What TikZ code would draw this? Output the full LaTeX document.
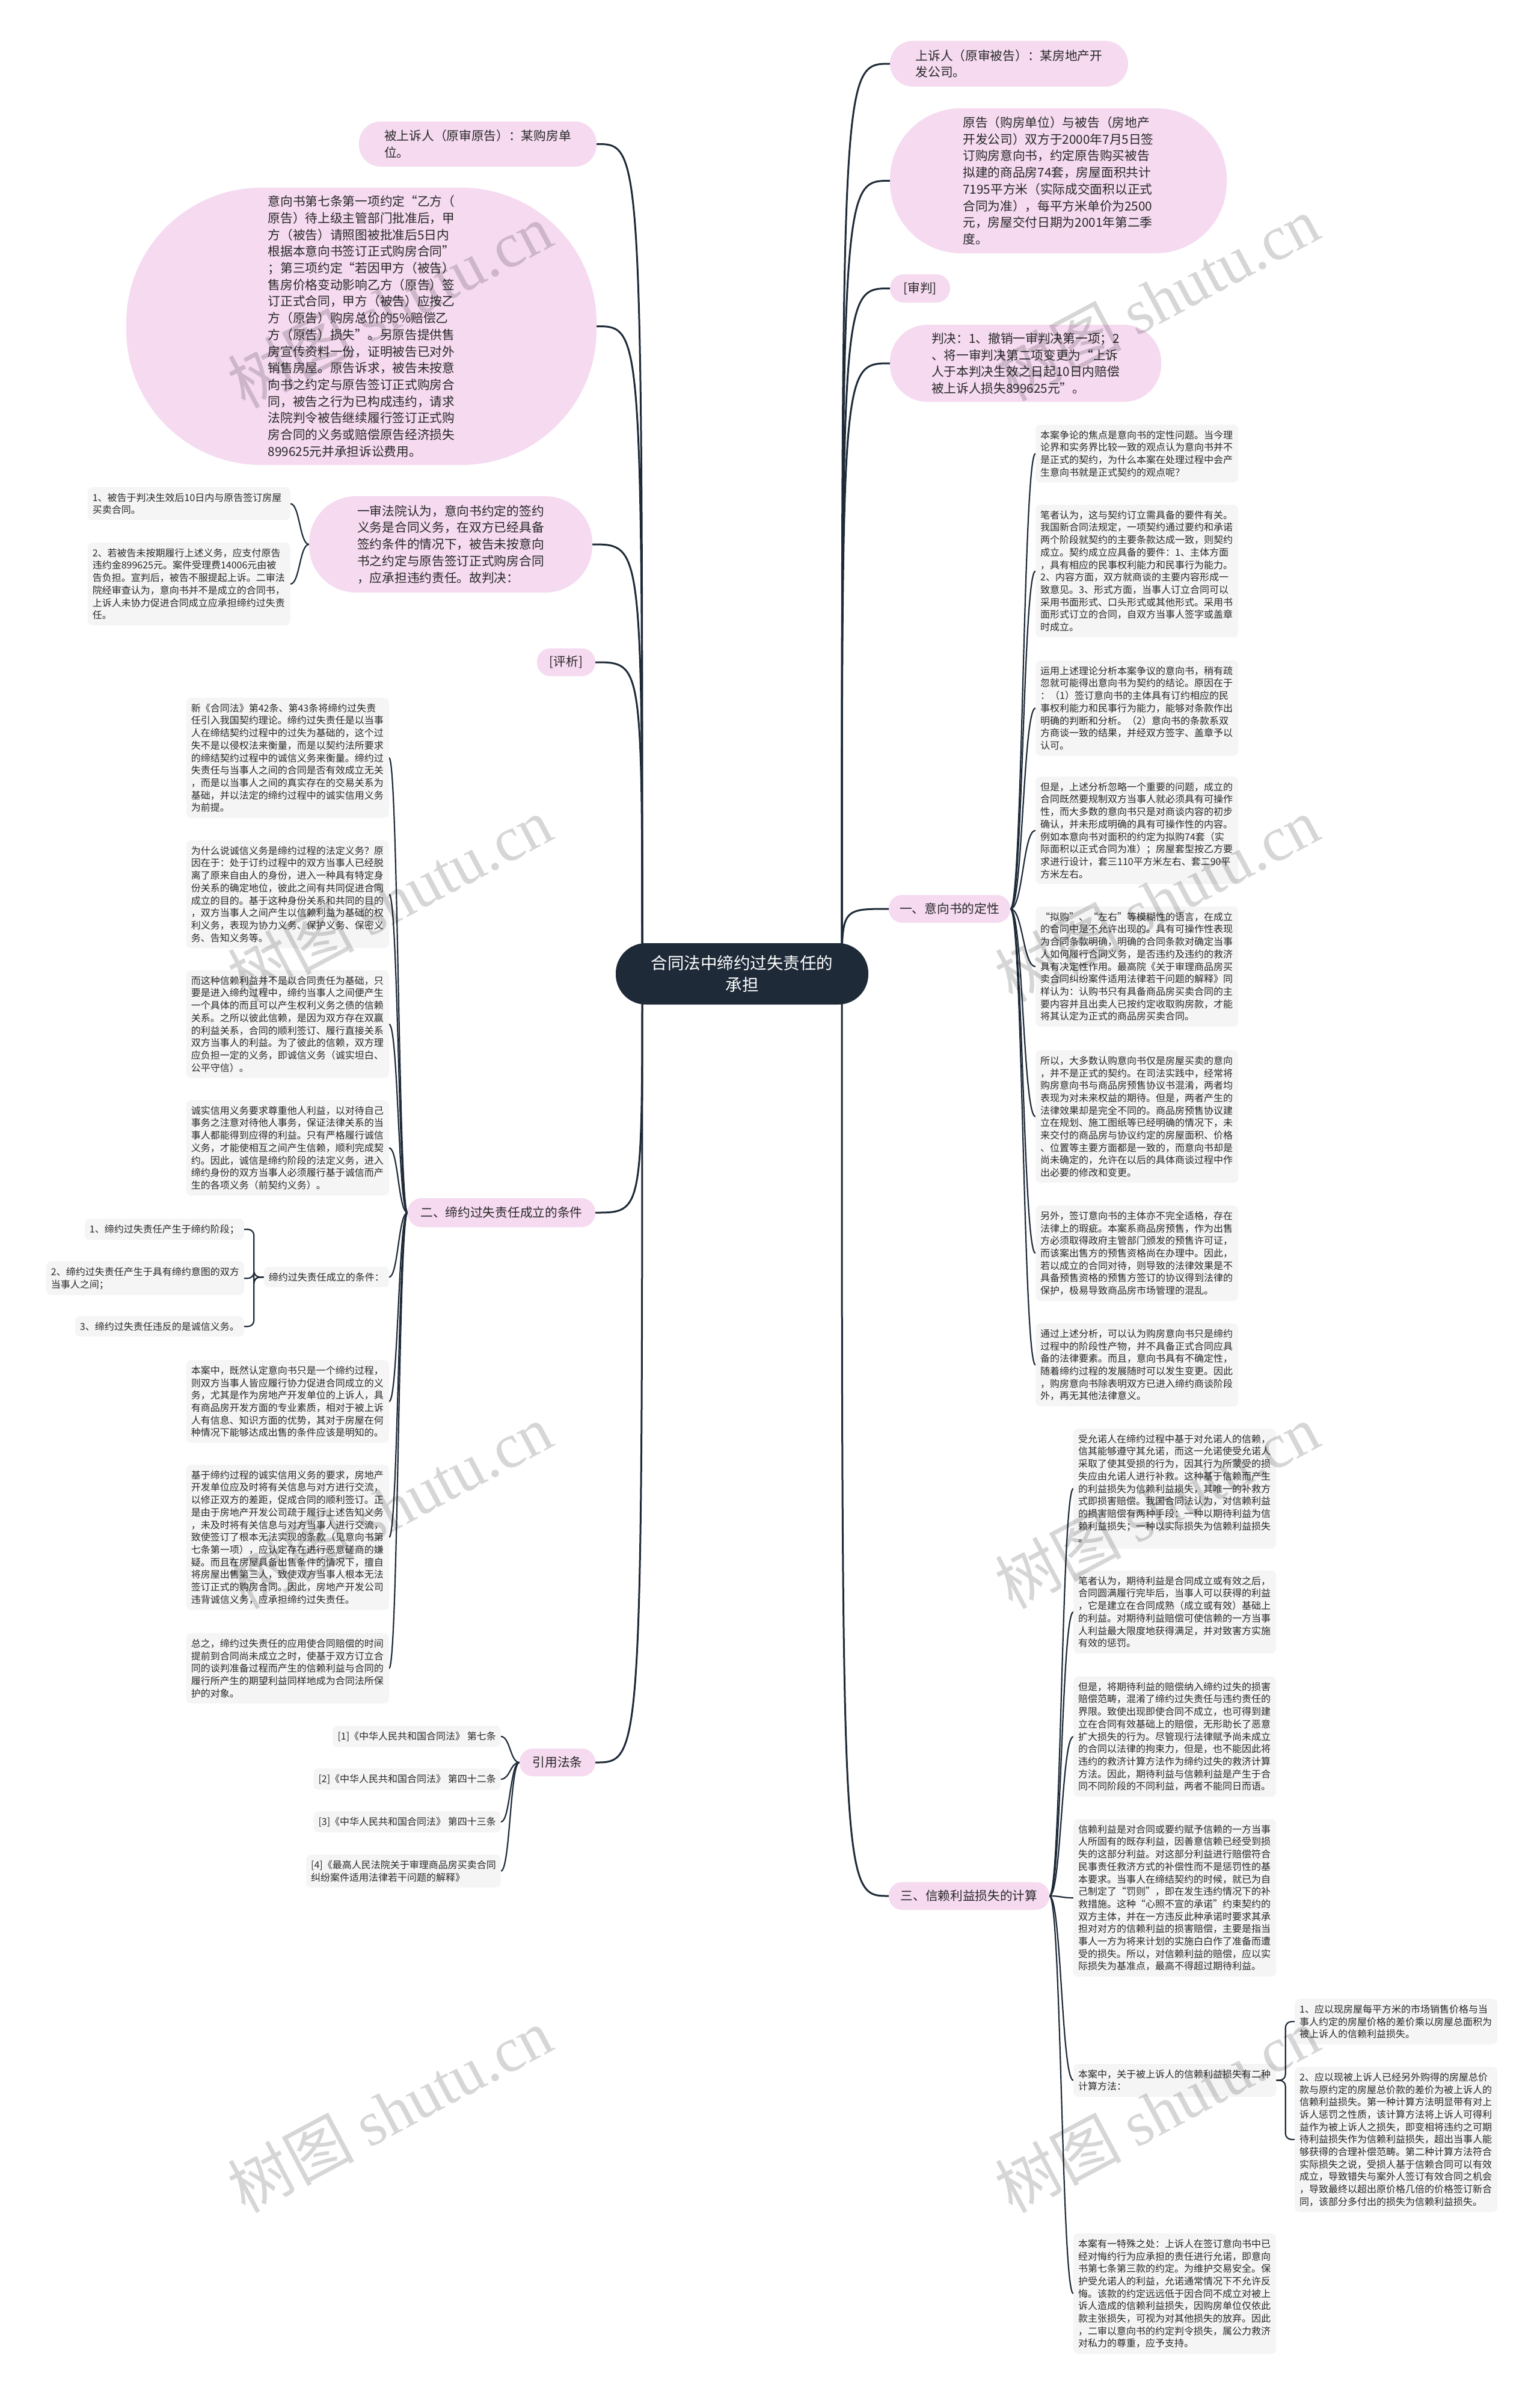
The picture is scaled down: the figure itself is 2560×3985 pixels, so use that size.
\documentclass[tikz,border=0pt]{standalone}
\usepackage{fontspec}
\setmainfont{Noto Sans CJK SC}
\newfontfamily\wmserif{Liberation Serif}
\usetikzlibrary{calc,backgrounds}
\definecolor{pinkc}{RGB}{245,218,240}
\definecolor{greyc}{RGB}{245,245,245}
\definecolor{navy}{RGB}{30,42,56}
\definecolor{txt}{RGB}{40,40,40}
\tikzset{
 pk/.style={fill=pinkc, rounded corners=#1, text=txt, align=left, font=\fontsize{20.7}{27.7}\selectfont, inner sep=0pt},
 gb/.style={fill=greyc, rounded corners=8pt, text=txt, align=left, text width=321pt, font=\fontsize{16}{20.7}\selectfont, inner xsep=8pt, inner ysep=9.5pt},
 gs/.style={fill=greyc, rounded corners=8pt, text=txt, align=left, font=\fontsize{16}{20.7}\selectfont, inner xsep=8pt, inner ysep=9.5pt},
 mline/.style={draw=navy, line width=3pt},
 sline/.style={draw=navy, line width=2.2pt},
 wmark/.style={rotate=28, text=black, opacity=0.16, font=\fontsize{105}{105}\selectfont}
}
\newcommand\mybrace[2]{\draw[sline] let \p1=(#1), \p2=(#2) in (\p1) .. controls ({(\x1+\x2)/2},\y1) and ({(\x1+\x2)/2},\y2) .. (\p2);}
\newcommand\myelbow[2]{\draw[sline, rounded corners=10pt] let \p1=(#1), \p2=(#2) in (\p1) -- ({(\x1+\x2)/2},\y1) -- ({(\x1+\x2)/2},\y2) -- (\p2);}
\begin{document}
\begin{tikzpicture}[x=1pt,y=-1pt]
\useasboundingbox (0,0) rectangle (2560,3985);

% central
\node[fill=navy, rounded corners=50pt, text=white, align=center, font=\fontsize{27.5}{36}\selectfont, minimum width=420pt, minimum height=102pt, inner sep=0pt] (c) at (1234,1619) {合同法中缔约过失责任的\\承担};
\coordinate (cR) at (1400,1619);
\coordinate (cL) at (1068,1619);

% right level 1
\node[pk=38pt, minimum width=396pt, minimum height=76pt] (p1) at (1678,106) {上诉人（原审被告）：某房地产开\\发公司。};
\node[pk=118pt, minimum width=560pt, minimum height=241pt] (p2) at (1760,300.5) {原告（购房单位）与被告（房地产\\开发公司）双方于2000年7月5日签\\订购房意向书，约定原告购买被告\\拟建的商品房74套，房屋面积共计\\7195平方米（实际成交面积以正式\\合同为准），每平方米单价为2500\\元，房屋交付日期为2001年第二季\\度。};
\node[pk=23pt, minimum width=100pt, minimum height=47pt] (p3) at (1530,479.5) {[审判]};
\node[pk=62pt, minimum width=451pt, minimum height=128pt] (p4) at (1705.5,604) {判决：1、撤销一审判决第一项；2\\、将一审判决第二项变更为“上诉\\人于本判决生效之日起10日内赔偿\\被上诉人损失899625元”。};
\node[pk=22pt, minimum width=202pt, minimum height=46pt] (r1) at (1579,1511) {一、意向书的定性};
\node[pk=22pt, minimum width=267pt, minimum height=46pt] (r3) at (1611.5,3152) {三、信赖利益损失的计算};

% left level 1
\node[pk=36pt, minimum width=395pt, minimum height=75pt] (q1) at (794.5,239.5) {被上诉人（原审原告）：某购房单\\位。};
\node[pk=225pt, minimum width=782pt, minimum height=461pt] (q2) at (601,542.5) {意向书第七条第一项约定“乙方（\\原告）待上级主管部门批准后，甲\\方（被告）请照图被批准后5日内\\根据本意向书签订正式购房合同”\\；第三项约定“若因甲方（被告）\\售房价格变动影响乙方（原告）签\\订正式合同，甲方（被告）应按乙\\方（原告）购房总价的5\%赔偿乙\\方（原告）损失”。另原告提供售\\房宣传资料一份，证明被告已对外\\销售房屋。原告诉求，被告未按意\\向书之约定与原告签订正式购房合\\同，被告之行为已构成违约，请求\\法院判令被告继续履行签订正式购\\房合同的义务或赔偿原告经济损失\\899625元并承担诉讼费用。};
\node[pk=78pt, minimum width=471pt, minimum height=160pt] (q3) at (749.5,905) {一审法院认为，意向书约定的签约\\义务是合同义务，在双方已经具备\\签约条件的情况下，被告未按意向\\书之约定与原告签订正式购房合同\\，应承担违约责任。故判决：};
\node[pk=22pt, minimum width=97pt, minimum height=46pt] (q4) at (941.5,1101) {[评析]};
\node[pk=23pt, minimum width=312pt, minimum height=48pt] (q5) at (834,2016) {二、缔约过失责任成立的条件};
\node[pk=22pt, minimum width=126pt, minimum height=46pt] (q6) at (927,2930) {引用法条};

% children of q3
\node[gb, anchor=north east] (s1) at (483,810) {1、被告于判决生效后10日内与原告签订房屋\\买卖合同。};
\node[gb, anchor=north east] (s2) at (483,902) {2、若被告未按期履行上述义务，应支付原告\\违约金899625元。案件受理费14006元由被\\告负担。宣判后，被告不服提起上诉。二审法\\院经审查认为，意向书并不是成立的合同书，\\上诉人未协力促进合同成立应承担缔约过失责\\任。};

% right column (children of r1)
\node[gb, anchor=north west] (a1) at (1722,706) {本案争论的焦点是意向书的定性问题。当今理\\论界和实务界比较一致的观点认为意向书并不\\是正式的契约，为什么本案在处理过程中会产\\生意向书就是正式契约的观点呢？};
\node[gb, anchor=north west] (a2) at (1722,839) {笔者认为，这与契约订立需具备的要件有关。\\我国新合同法规定，一项契约通过要约和承诺\\两个阶段就契约的主要条款达成一致，则契约\\成立。契约成立应具备的要件：1、主体方面\\，具有相应的民事权利能力和民事行为能力。\\2、内容方面，双方就商谈的主要内容形成一\\致意见。3、形式方面，当事人订立合同可以\\采用书面形式、口头形式或其他形式。采用书\\面形式订立的合同，自双方当事人签字或盖章\\时成立。};
\node[gb, anchor=north west] (a3) at (1722,1098) {运用上述理论分析本案争议的意向书，稍有疏\\忽就可能得出意向书为契约的结论。原因在于\\：（1）签订意向书的主体具有订约相应的民\\事权利能力和民事行为能力，能够对条款作出\\明确的判断和分析。（2）意向书的条款系双\\方商谈一致的结果，并经双方签字、盖章予以\\认可。};
\node[gb, anchor=north west] (a4) at (1722,1291) {但是，上述分析忽略一个重要的问题，成立的\\合同既然要规制双方当事人就必须具有可操作\\性，而大多数的意向书只是对商谈内容的初步\\确认，并未形成明确的具有可操作性的内容。\\例如本意向书对面积的约定为拟购74套（实\\际面积以正式合同为准）；房屋套型按乙方要\\求进行设计，套三110平方米左右、套二90平\\方米左右。};
\node[gb, anchor=north west] (a5) at (1722,1507) {“拟购”、“左右”等模糊性的语言，在成立\\的合同中是不允许出现的。具有可操作性表现\\为合同条款明确，明确的合同条款对确定当事\\人如何履行合同义务，是否违约及违约的救济\\具有决定性作用。最高院《关于审理商品房买\\卖合同纠纷案件适用法律若干问题的解释》同\\样认为：认购书只有具备商品房买卖合同的主\\要内容并且出卖人已按约定收取购房款，才能\\将其认定为正式的商品房买卖合同。};
\node[gb, anchor=north west] (a6) at (1722,1746) {所以，大多数认购意向书仅是房屋买卖的意向\\，并不是正式的契约。在司法实践中，经常将\\购房意向书与商品房预售协议书混淆，两者均\\表现为对未来权益的期待。但是，两者产生的\\法律效果却是完全不同的。商品房预售协议建\\立在规划、施工图纸等已经明确的情况下，未\\来交付的商品房与协议约定的房屋面积、价格\\、位置等主要方面都是一致的，而意向书却是\\尚未确定的，允许在以后的具体商谈过程中作\\出必要的修改和变更。};
\node[gb, anchor=north west] (a7) at (1722,2004) {另外，签订意向书的主体亦不完全适格，存在\\法律上的瑕疵。本案系商品房预售，作为出售\\方必须取得政府主管部门颁发的预售许可证，\\而该案出售方的预售资格尚在办理中。因此，\\若以成立的合同对待，则导致的法律效果是不\\具备预售资格的预售方签订的协议得到法律的\\保护，极易导致商品房市场管理的混乱。};
\node[gb, anchor=north west] (a8) at (1722,2200) {通过上述分析，可以认为购房意向书只是缔约\\过程中的阶段性产物，并不具备正式合同应具\\备的法律要素。而且，意向书具有不确定性，\\随着缔约过程的发展随时可以发生变更。因此\\，购房意向书除表明双方已进入缔约商谈阶段\\外，再无其他法律意义。};

% children of r3
\node[gb, anchor=north west] (b1) at (1785,2375) {受允诺人在缔约过程中基于对允诺人的信赖，\\信其能够遵守其允诺，而这一允诺使受允诺人\\采取了使其受损的行为，因其行为所蒙受的损\\失应由允诺人进行补救。这种基于信赖而产生\\的利益损失为信赖利益损失，其唯一的补救方\\式即损害赔偿。我国合同法认为，对信赖利益\\的损害赔偿有两种手段：一种以期待利益为信\\赖利益损失；一种以实际损失为信赖利益损失\\。};
\node[gb, anchor=north west] (b2) at (1785,2611) {笔者认为，期待利益是合同成立或有效之后，\\合同圆满履行完毕后，当事人可以获得的利益\\，它是建立在合同成熟（成立或有效）基础上\\的利益。对期待利益赔偿可使信赖的一方当事\\人利益最大限度地获得满足，并对致害方实施\\有效的惩罚。};
\node[gb, anchor=north west] (b3) at (1785,2787) {但是，将期待利益的赔偿纳入缔约过失的损害\\赔偿范畴，混淆了缔约过失责任与违约责任的\\界限。致使出现即使合同不成立，也可得到建\\立在合同有效基础上的赔偿，无形助长了恶意\\扩大损失的行为。尽管现行法律赋予尚未成立\\的合同以法律的拘束力，但是，也不能因此将\\违约的救济计算方法作为缔约过失的救济计算\\方法。因此，期待利益与信赖利益是产生于合\\同不同阶段的不同利益，两者不能同日而语。};
\node[gb, anchor=north west] (b4) at (1785,3024) {信赖利益是对合同或要约赋予信赖的一方当事\\人所固有的既存利益，因善意信赖已经受到损\\失的这部分利益。对这部分利益进行赔偿符合\\民事责任救济方式的补偿性而不是惩罚性的基\\本要求。当事人在缔结契约的时候，就已为自\\己制定了“罚则”，即在发生违约情况下的补\\救措施。这种“心照不宣的承诺”约束契约的\\双方主体，并在一方违反此种承诺时要求其承\\担对对方的信赖利益的损害赔偿，主要是指当\\事人一方为将来计划的实施白白作了准备而遭\\受的损失。所以，对信赖利益的赔偿，应以实\\际损失为基准点，最高不得超过期待利益。};
\node[gb, anchor=north west] (b5) at (1785,3431) {本案中，关于被上诉人的信赖利益损失有二种\\计算方法：};
\node[gb, anchor=north west] (b6) at (1785,3713) {本案有一特殊之处：上诉人在签订意向书中已\\经对悔约行为应承担的责任进行允诺，即意向\\书第七条第三款的约定。为维护交易安全。保\\护受允诺人的利益，允诺通常情况下不允许反\\悔。该款的约定远远低于因合同不成立对被上\\诉人造成的信赖利益损失，因购房单位仅依此\\款主张损失，可视为对其他损失的放弃。因此\\，二审以意向书的约定判令损失，属公力救济\\对私力的尊重，应予支持。};
\node[gb, anchor=north west] (n1) at (2153,3323) {1、应以现房屋每平方米的市场销售价格与当\\事人约定的房屋价格的差价乘以房屋总面积为\\被上诉人的信赖利益损失。};
\node[gb, anchor=north west] (n2) at (2153,3436) {2、应以现被上诉人已经另外购得的房屋总价\\款与原约定的房屋总价款的差价为被上诉人的\\信赖利益损失。第一种计算方法明显带有对上\\诉人惩罚之性质，该计算方法将上诉人可得利\\益作为被上诉人之损失，即变相将违约之可期\\待利益损失作为信赖利益损失，超出当事人能\\够获得的合理补偿范畴。第二种计算方法符合\\实际损失之说，受损人基于信赖合同可以有效\\成立，导致错失与案外人签订有效合同之机会\\，导致最终以超出原价格几倍的价格签订新合\\同，该部分多付出的损失为信赖利益损失。};

% left column (children of q5)
\node[gb, anchor=north east] (l1) at (647,1160) {新《合同法》第42条、第43条将缔约过失责\\任引入我国契约理论。缔约过失责任是以当事\\人在缔结契约过程中的过失为基础的，这个过\\失不是以侵权法来衡量，而是以契约法所要求\\的缔结契约过程中的诚信义务来衡量。缔约过\\失责任与当事人之间的合同是否有效成立无关\\，而是以当事人之间的真实存在的交易关系为\\基础，并以法定的缔约过程中的诚实信用义务\\为前提。};
\node[gb, anchor=north east] (l2) at (647,1397) {为什么说诚信义务是缔约过程的法定义务？原\\因在于：处于订约过程中的双方当事人已经脱\\离了原来自由人的身份，进入一种具有特定身\\份关系的确定地位，彼此之间有共同促进合同\\成立的目的。基于这种身份关系和共同的目的\\，双方当事人之间产生以信赖利益为基础的权\\利义务，表现为协力义务、保护义务、保密义\\务、告知义务等。};
\node[gb, anchor=north east] (l3) at (647,1613) {而这种信赖利益并不是以合同责任为基础，只\\要是进入缔约过程中，缔约当事人之间便产生\\一个具体的而且可以产生权利义务之债的信赖\\关系。之所以彼此信赖，是因为双方存在双赢\\的利益关系，合同的顺利签订、履行直接关系\\双方当事人的利益。为了彼此的信赖，双方理\\应负担一定的义务，即诚信义务（诚实坦白、\\公平守信）。};
\node[gb, anchor=north east] (l4) at (647,1829) {诚实信用义务要求尊重他人利益，以对待自己\\事务之注意对待他人事务，保证法律关系的当\\事人都能得到应得的利益。只有严格履行诚信\\义务，才能使相互之间产生信赖，顺利完成契\\约。因此，诚信是缔约阶段的法定义务，进入\\缔约身份的双方当事人必须履行基于诚信而产\\生的各项义务（前契约义务）。};
\node[gs, anchor=north east] (l5) at (647,2106) {缔约过失责任成立的条件：};
\node[gb, anchor=north east] (l6) at (647,2261) {本案中，既然认定意向书只是一个缔约过程，\\则双方当事人皆应履行协力促进合同成立的义\\务，尤其是作为房地产开发单位的上诉人，具\\有商品房开发方面的专业素质，相对于被上诉\\人有信息、知识方面的优势，其对于房屋在何\\种情况下能够达成出售的条件应该是明知的。};
\node[gb, anchor=north east] (l7) at (647,2435) {基于缔约过程的诚实信用义务的要求，房地产\\开发单位应及时将有关信息与对方进行交流，\\以修正双方的差距，促成合同的顺利签订。正\\是由于房地产开发公司疏于履行上述告知义务\\，未及时将有关信息与对方当事人进行交流，\\致使签订了根本无法实现的条款（见意向书第\\七条第一项），应认定存在进行恶意磋商的嫌\\疑。而且在房屋具备出售条件的情况下，擅自\\将房屋出售第三人，致使双方当事人根本无法\\签订正式的购房合同。因此，房地产开发公司\\违背诚信义务，应承担缔约过失责任。};
\node[gb, anchor=north east] (l8) at (647,2715) {总之，缔约过失责任的应用使合同赔偿的时间\\提前到合同尚未成立之时，使基于双方订立合\\同的谈判准备过程而产生的信赖利益与合同的\\履行所产生的期望利益同样地成为合同法所保\\护的对象。};
\node[gs, anchor=north east] (k1) at (406,2026) {1、缔约过失责任产生于缔约阶段；};
\node[gs, anchor=north east] (k2) at (406,2097) {2、缔约过失责任产生于具有缔约意图的双方\\当事人之间；};
\node[gs, anchor=north east] (k3) at (406,2188) {3、缔约过失责任违反的是诚信义务。};

% references
\node[gs, anchor=north east] (f1) at (833,2869) {[1]《中华人民共和国合同法》 第七条};
\node[gs, anchor=north east] (f2) at (833,2940) {[2]《中华人民共和国合同法》 第四十二条};
\node[gs, anchor=north east] (f3) at (833,3011) {[3]《中华人民共和国合同法》 第四十三条};
\node[gs, anchor=north east] (f4) at (833,3083) {[4]《最高人民法院关于审理商品房买卖合同\\纠纷案件适用法律若干问题的解释》};

\begin{scope}[on background layer]
\fill[white] (0,0) rectangle (2560,3985);
% main connectors
\foreach \t in {p1,p2,p3,p4,r1,r3}{\draw[mline] (cR) .. controls (cR |- \t.west) .. (\t.west);}
\foreach \t in {q1,q2,q3,q4,q5,q6}{\draw[mline] (cL) .. controls (cL |- \t.east) .. (\t.east);}
% sub connectors
\foreach \t in {a1,a2,a3,a4,a5,a6,a7,a8}{\mybrace{r1.east}{\t.west}}
\foreach \t in {b1,b2,b3,b4,b5,b6}{\mybrace{r3.east}{\t.west}}
\foreach \t in {l1,l2,l3,l4,l5,l6,l7,l8}{\mybrace{q5.west}{\t.east}}
\foreach \t in {s1,s2}{\mybrace{q3.west}{\t.east}}
\foreach \t in {f1,f2,f3,f4}{\mybrace{q6.west}{\t.east}}
\foreach \t in {k1,k2,k3}{\myelbow{l5.west}{\t.east}}
\foreach \t in {n1,n2}{\myelbow{b5.east}{\t.west}}
\end{scope}

% watermark
\foreach \px/\py in {648/508,1924/496,648/1495,1924/1495,648/2504,1924/2504,648/3508,1924/3508}{
\node[wmark] at (\px,\py) {树图 {\wmserif shutu.cn}};}
\end{tikzpicture}
\end{document}
